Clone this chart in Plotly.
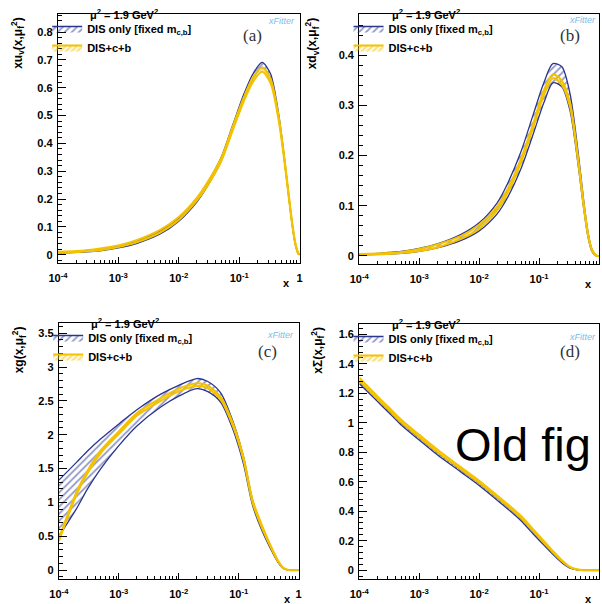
import plotly.graph_objects as go

# ---------------- data ----------------
X = [1e-4, 2e-4, 3e-4, 5e-4, 1e-3, 2e-3, 5e-3, 0.01, 0.02, 0.03, 0.05, 0.08,
     0.12, 0.17, 0.24, 0.33, 0.45, 0.55, 0.65, 0.75, 0.85, 0.95, 1.0]

# (a) x u_v
UV_DIS_LO = [0.005, 0.008, 0.010, 0.014, 0.024, 0.040, 0.075, 0.120, 0.190, 0.247, 0.336, 0.458,
             0.562, 0.635, 0.673, 0.633, 0.492, 0.352, 0.220, 0.110, 0.036, 0.003, 0.0]
UV_DIS_HI = [0.009, 0.012, 0.015, 0.020, 0.031, 0.049, 0.086, 0.131, 0.202, 0.259, 0.348, 0.472,
             0.578, 0.651, 0.691, 0.650, 0.505, 0.362, 0.228, 0.116, 0.040, 0.006, 0.0]
UV_HQ_LO = [0.006, 0.009, 0.012, 0.016, 0.027, 0.044, 0.080, 0.125, 0.195, 0.249, 0.334, 0.453,
            0.553, 0.622, 0.657, 0.617, 0.483, 0.349, 0.220, 0.111, 0.037, 0.003, 0.0]
UV_HQ_HI = [0.010, 0.013, 0.016, 0.022, 0.033, 0.052, 0.090, 0.135, 0.205, 0.261, 0.346, 0.467,
            0.567, 0.638, 0.673, 0.633, 0.497, 0.361, 0.230, 0.119, 0.043, 0.007, 0.0]

# (b) x d_v
DV_DIS_LO = [0.002, 0.003, 0.004, 0.005, 0.009, 0.016, 0.031, 0.050, 0.084, 0.117, 0.174, 0.243,
             0.305, 0.345, 0.337, 0.288, 0.180, 0.098, 0.040, 0.011, 0.002, 0.0, 0.0]
DV_DIS_HI = [0.004, 0.005, 0.007, 0.009, 0.015, 0.024, 0.043, 0.066, 0.106, 0.145, 0.208, 0.282,
             0.345, 0.383, 0.377, 0.322, 0.205, 0.115, 0.050, 0.016, 0.004, 0.0, 0.0]
DV_HQ_LO = [0.002, 0.003, 0.004, 0.006, 0.010, 0.017, 0.034, 0.054, 0.091, 0.126, 0.186, 0.256,
            0.320, 0.354, 0.341, 0.296, 0.187, 0.102, 0.043, 0.013, 0.002, 0.0, 0.0]
DV_HQ_HI = [0.004, 0.005, 0.006, 0.008, 0.014, 0.023, 0.040, 0.062, 0.099, 0.134, 0.194, 0.264,
            0.330, 0.362, 0.349, 0.304, 0.193, 0.108, 0.047, 0.015, 0.004, 0.0, 0.0]

# (c) x g
G_DIS_LO = [0.50, 0.92, 1.20, 1.50, 1.84, 2.13, 2.41, 2.57, 2.68, 2.64, 2.48, 2.08,
            1.57, 0.96, 0.60, 0.34, 0.12, 0.028, 0.004, 0.0, 0.0, 0.0, 0.0]
G_DIS_HI = [1.33, 1.60, 1.76, 1.94, 2.16, 2.37, 2.60, 2.73, 2.83, 2.79, 2.62, 2.20,
            1.68, 1.04, 0.65, 0.37, 0.135, 0.034, 0.006, 0.0, 0.0, 0.0, 0.0]
G_HQ_LO = [0.43, 1.13, 1.43, 1.73, 2.01, 2.28, 2.50, 2.64, 2.72, 2.69, 2.52, 2.13,
           1.63, 1.00, 0.64, 0.37, 0.135, 0.032, 0.005, 0.0, 0.0, 0.0, 0.0]
G_HQ_HI = [0.47, 1.17, 1.47, 1.77, 2.05, 2.32, 2.54, 2.68, 2.76, 2.73, 2.56, 2.17,
           1.67, 1.04, 0.68, 0.39, 0.145, 0.038, 0.007, 0.0, 0.0, 0.0, 0.0]

# (d) x Sigma
S_DIS_LO = [1.265, 1.145, 1.075, 0.985, 0.883, 0.783, 0.665, 0.575, 0.475, 0.415, 0.335, 0.245,
            0.170, 0.107, 0.050, 0.013, 0.001, 0.0, 0.0, 0.0, 0.0, 0.0, 0.0]
S_DIS_HI = [1.280, 1.160, 1.090, 1.000, 0.898, 0.798, 0.680, 0.590, 0.490, 0.430, 0.350, 0.260,
            0.183, 0.117, 0.058, 0.017, 0.002, 0.0, 0.0, 0.0, 0.0, 0.0, 0.0]
S_HQ_LO = [1.285, 1.163, 1.093, 1.003, 0.902, 0.802, 0.683, 0.593, 0.493, 0.433, 0.353, 0.263,
           0.186, 0.120, 0.060, 0.019, 0.002, 0.0, 0.0, 0.0, 0.0, 0.0, 0.0]
S_HQ_HI = [1.305, 1.180, 1.110, 1.020, 0.918, 0.818, 0.697, 0.607, 0.507, 0.447, 0.367, 0.277,
           0.198, 0.130, 0.068, 0.023, 0.004, 0.0, 0.0, 0.0, 0.0, 0.0, 0.0]

PANEL_LABELS = ["(a)", "(b)", "(c)", "(d)"]
Y_TITLES = ["xu<sub>v</sub>(x,μ<sub>f</sub><sup>2</sup>)",
            "xd<sub>v</sub>(x,μ<sub>f</sub><sup>2</sup>)",
            "xg(x,μ<sub>f</sub><sup>2</sup>)",
            "xΣ(x,μ<sub>f</sub><sup>2</sup>)"]
SERIES_NAMES = ["DIS only [fixed m<sub>c,b</sub>]", "DIS+c+b"]
SCALE_TEXT = "μ<sup>2</sup> = 1.9 GeV<sup>2</sup>"
X_TICKS = [1e-4, 1e-3, 1e-2, 1e-1, 1]
X_TICKTEXT = ["10<sup>-4</sup>", "10<sup>-3</sup>", "10<sup>-2</sup>", "10<sup>-1</sup>", "1"]

# ---------------- styling ----------------
W, H = 602, 604
BLUE = "#2a3590"
YELLOW = "#f3c200"
FONT = "Liberation Sans, Arial, sans-serif"

def px(x):
    return x / W

def py(y):
    return 1 - y / H

panels = [
    dict(bands=[(UV_DIS_LO, UV_DIS_HI), (UV_HQ_LO, UV_HQ_HI)],
         xd=[49, 296], yd=[14, 263], yr=[-0.03, 0.865], dt=0.1, mdt=0.02, yt=8),
    dict(bands=[(DV_DIS_LO, DV_DIS_HI), (DV_HQ_LO, DV_HQ_HI)],
         xd=[357, 602], yd=[14, 264], yr=[-0.016, 0.482], dt=0.1, mdt=0.02, yt=309),
    dict(bands=[(G_DIS_LO, G_DIS_HI), (G_HQ_LO, G_HQ_HI)],
         xd=[50, 295], yd=[323, 579], yr=[-0.13, 3.65], dt=0.5, mdt=0.1, yt=9),
    dict(bands=[(S_DIS_LO, S_DIS_HI), (S_HQ_LO, S_HQ_HI)],
         xd=[357, 602], yd=[324, 579], yr=[-0.06, 1.67], dt=0.2, mdt=0.04, yt=314),
]

minor_x = [m * 10.0 ** e for e in range(-4, 0) for m in range(2, 10)]

fig = go.Figure()
layout = dict(width=W, height=H, margin=dict(l=0, r=0, t=0, b=0),
              paper_bgcolor="white", plot_bgcolor="white",
              font=dict(family=FONT, size=11, color="black"),
              annotations=[])

STYLE = [dict(color=BLUE, width=1.3, size=5, solidity=0.35),
         dict(color=YELLOW, width=2.0, size=4, solidity=0.6)]

for i, p in enumerate(panels):
    n = "" if i == 0 else str(i + 1)
    xa, ya = "x" + n, "y" + n
    leg = "legend" + n
    for k, (lo, hi) in enumerate(p["bands"]):
        s = STYLE[k]
        fig.add_trace(go.Scatter(
            x=X, y=lo, xaxis=xa, yaxis=ya, mode="lines",
            line=dict(color=s["color"], width=s["width"], shape="spline", smoothing=0.8),
            showlegend=False, hoverinfo="skip"))
        fig.add_trace(go.Scatter(
            x=X, y=hi, xaxis=xa, yaxis=ya, mode="lines",
            line=dict(color=s["color"], width=s["width"], shape="spline", smoothing=0.8),
            fill="tonexty", fillcolor="rgba(0,0,0,0)",
            fillpattern=dict(shape="/", fgcolor=s["color"], size=s["size"],
                             solidity=s["solidity"]),
            name=SERIES_NAMES[k], legend=leg, showlegend=True, hoverinfo="skip"))

    layout["xaxis" + n] = dict(
        domain=[px(p["xd"][0]), px(p["xd"][1])], anchor=ya, type="log", range=[-4, 0],
        tickmode="array", tickvals=X_TICKS, ticktext=X_TICKTEXT,
        ticks="inside", ticklen=6, tickwidth=1, tickcolor="black",
        minor=dict(tickmode="array", tickvals=minor_x, ticks="inside", ticklen=3,
                   tickcolor="black", showgrid=False),
        showline=True, linecolor="black", linewidth=1.3, mirror=True,
        showgrid=False, zeroline=False, ticklabelstandoff=5,
        tickfont=dict(family=FONT, size=11, color="black", weight="bold"))
    layout["yaxis" + n] = dict(
        domain=[py(p["yd"][1]), py(p["yd"][0])], anchor=xa, range=p["yr"],
        tick0=0, dtick=p["dt"], ticks="inside", ticklen=8, tickwidth=1, tickcolor="black",
        minor=dict(dtick=p["mdt"], tick0=0, ticks="inside", ticklen=4,
                   tickcolor="black", showgrid=False),
        showline=True, linecolor="black", linewidth=1.3, mirror=True,
        showgrid=False, zeroline=False, ticklabelstandoff=2,
        tickfont=dict(family=FONT, size=11, color="black", weight="bold"))

    x0 = p["xd"][0]
    y0 = p["yd"][0]
    layout[leg] = dict(x=px(x0 - 11), y=py(y0 + 0), xanchor="left", yanchor="top",
                       bgcolor="rgba(0,0,0,0)", borderwidth=0, itemwidth=30,
                       traceorder="normal", tracegroupgap=0,
                       font=dict(family=FONT, size=11, color="black", weight="bold"))
    anns = layout["annotations"]
    # scale label
    anns.append(dict(text=SCALE_TEXT, x=px(x0 + 31), y=py(y0), xref="paper", yref="paper",
                     xanchor="left", yanchor="middle", showarrow=False,
                     font=dict(family=FONT, size=11, color="black", weight="bold")))
    # y-axis title
    anns.append(dict(text=Y_TITLES[i], x=px(p["yt"]), y=py(y0 + 1), xref="paper", yref="paper",
                     xanchor="center", yanchor="top", textangle=-90, showarrow=False,
                     font=dict(family=FONT, size=12, color="black", weight="bold")))
    # x-axis title
    anns.append(dict(text="x", x=px(p["xd"][0] + 234), y=py(p["yd"][1] + 20),
                     xref="paper", yref="paper", xanchor="center", yanchor="middle",
                     showarrow=False,
                     font=dict(family=FONT, size=11, color="black", weight="bold")))

# panel letters and logos
LETTER_POS = [(248, 35), (572, 35), (263, 351), (572, 351)]
LOGO_POS = [(277, 21), (585, 20), (276, 335), (585, 337)]
for i in range(4):
    lx, ly = LETTER_POS[i]
    layout["annotations"].append(dict(
        text=PANEL_LABELS[i], x=px(lx), y=py(ly), xref="paper", yref="paper",
        xanchor="center", yanchor="middle", showarrow=False,
        font=dict(family="Liberation Serif, Times New Roman, serif", size=17, color="#333333")))
    gx, gy = LOGO_POS[i]
    layout["annotations"].append(dict(
        text="<i>xFitter</i>", x=px(gx), y=py(gy), xref="paper", yref="paper",
        xanchor="center", yanchor="middle", showarrow=False,
        font=dict(family=FONT, size=9, color="#7dbcea")))

layout["annotations"].append(dict(
    text="Old fig", x=px(524), y=py(444), xref="paper", yref="paper",
    xanchor="center", yanchor="middle", showarrow=False,
    font=dict(family="Liberation Sans, Arial, sans-serif", size=47, color="black")))

fig.update_layout(**layout)
fig.write_html("out.html")
